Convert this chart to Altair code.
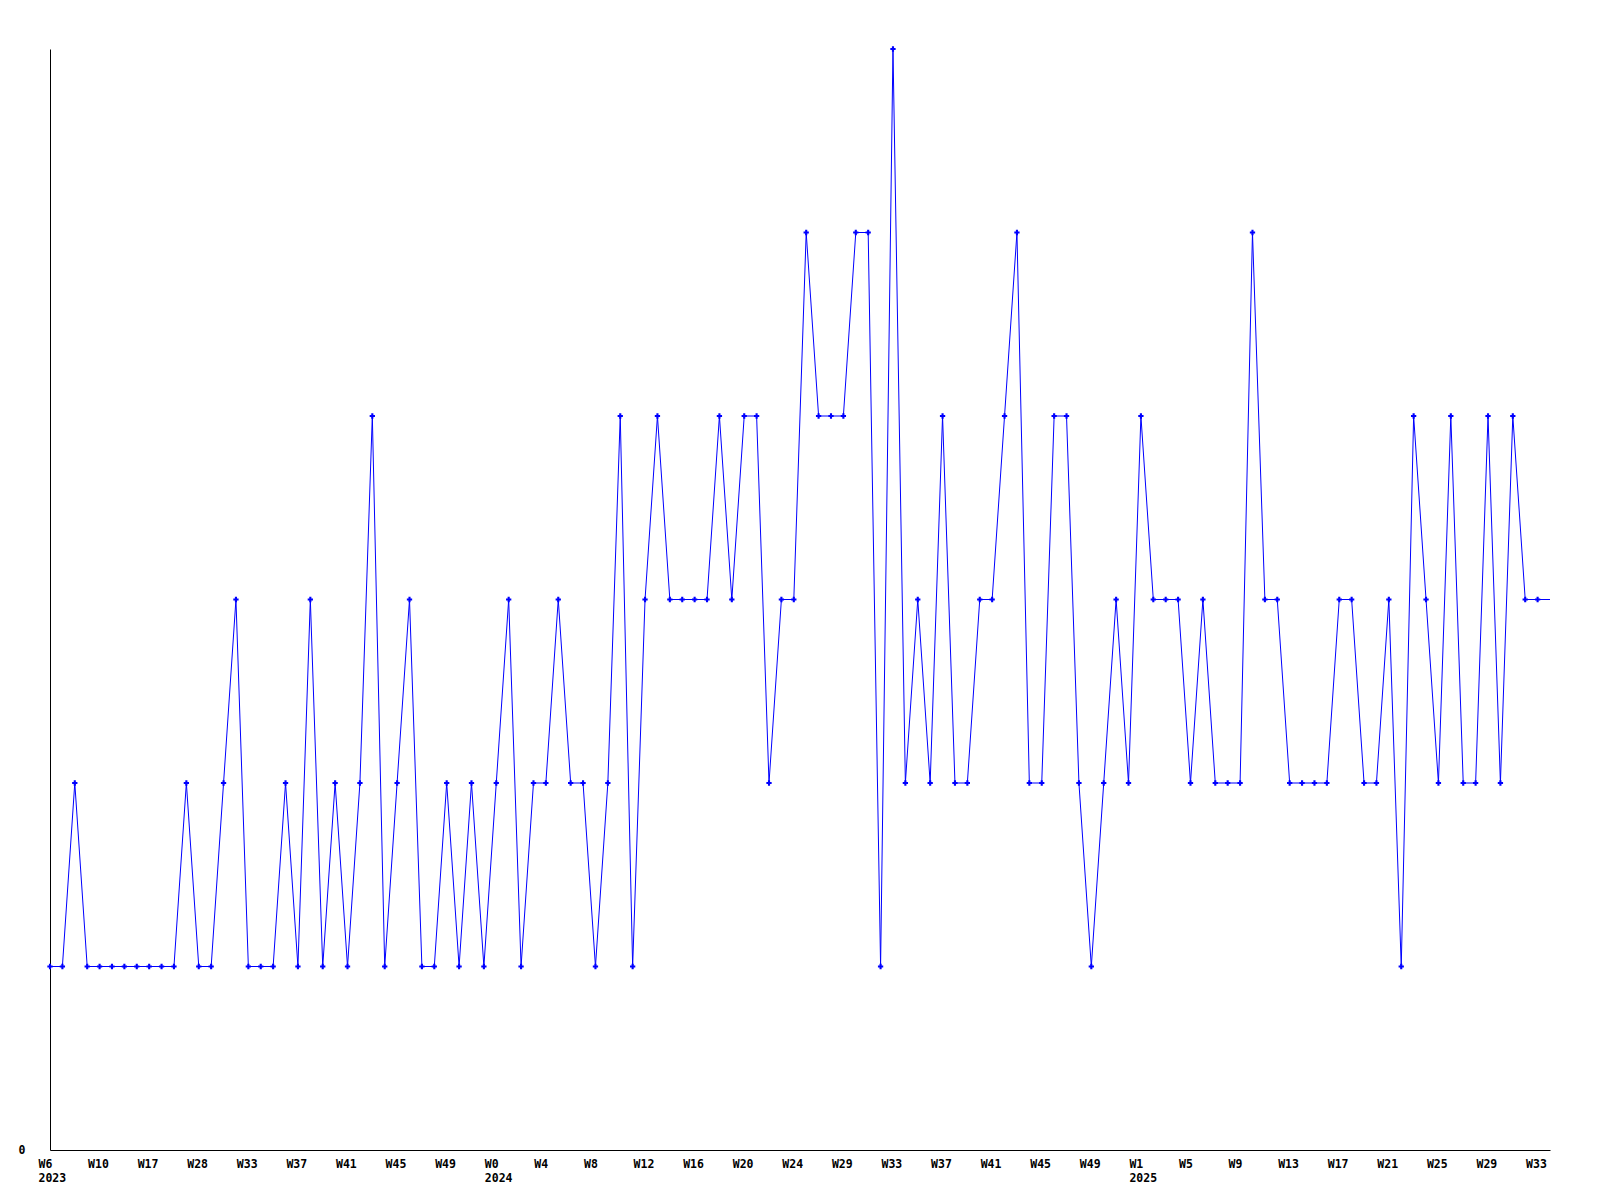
import json
import altair as alt
import pandas as pd

# values per data point (levels)
values = [
    1, 1, 2, 1, 1, 1, 1, 1, 1, 1, 1, 2, 1, 1, 2, 3, 1, 1, 1, 2,
    1, 3, 1, 2, 1, 2, 4, 1, 2, 3, 1, 1, 2, 1, 2, 1, 2, 3, 1, 2,
    2, 3, 2, 2, 1, 2, 4, 1, 3, 4, 3, 3, 3, 3, 4, 3, 4, 4, 2, 3,
    3, 5, 4, 4, 4, 5, 5, 1, 6, 2, 3, 2, 4, 2, 2, 3, 3, 4, 5, 2,
    2, 4, 4, 2, 1, 2, 3, 2, 4, 3, 3, 3, 2, 3, 2, 2, 2, 5, 3, 3,
    2, 2, 2, 2, 3, 3, 2, 2, 3, 1, 4, 3, 2, 4, 2, 2, 4, 2, 4, 3,
    3, 3,
]

weeks = [
    "W6", "W7", "W8", "W9", "W10", "W11", "W13", "W15", "W17", "W20",
    "W23", "W26", "W28", "W29", "W31", "W32", "W33", "W34", "W35", "W36",
    "W37", "W38", "W39", "W40", "W41", "W42", "W43", "W44", "W45", "W46",
    "W47", "W48", "W49", "W50", "W51", "W52",
    "W0", "W1", "W2", "W3", "W4", "W5", "W6", "W7", "W8", "W9",
    "W10", "W11", "W12", "W13", "W14", "W15", "W16", "W17", "W18", "W19",
    "W20", "W21", "W22", "W23", "W24", "W25", "W26", "W28", "W29", "W30",
    "W31", "W32", "W33", "W34", "W35", "W36", "W37", "W38", "W39", "W40",
    "W41", "W42", "W43", "W44", "W45", "W46", "W47", "W48", "W49", "W50",
    "W51", "W52",
    "W1", "W2", "W3", "W4", "W5", "W6", "W7", "W8", "W9", "W10",
    "W11", "W12", "W13", "W14", "W15", "W16", "W17", "W18", "W19", "W20",
    "W21", "W22", "W23", "W24", "W25", "W26", "W27", "W28", "W29", "W30",
    "W31", "W32", "W33", "W34",
]

years = [2023] * 36 + [2024] * 52 + [2025] * 34

label_step = 4

n = len(values)
df = pd.DataFrame({"idx": list(range(n)), "value": values,
                   "week": weeks, "year": years})

# label lookup for the axis (every 4th point, year under first label of a year)
labels = []
prev_year = None
for i in range(n):
    if i % label_step == 0:
        if years[i] != prev_year:
            labels.append([weeks[i], str(years[i])])
        else:
            labels.append(weeks[i])
        prev_year = years[i]
    else:
        labels.append("")
label_expr = json.dumps(labels) + "[datum.value]"

FONT = "DejaVu Sans Mono"
BLUE = "#0000ff"

x = alt.X(
    "idx:Q",
    scale=alt.Scale(domain=[0, n - 1], nice=False, zero=False),
    axis=alt.Axis(
        values=list(range(0, n, label_step)),
        labelExpr=label_expr,
        title=None,
        grid=False,
        ticks=False,
        domainColor="black",
        domainWidth=1,
        labelFont=FONT,
        labelFontWeight="bold",
        labelFontSize=11.5,
        labelColor="black",
        labelAlign="left",
        labelBaseline="top",
        labelOffset=-12,
        labelPadding=8,
        labelLineHeight=14,
        labelOverlap=False,
        labelFlush=False,
    ),
)
y = alt.Y(
    "value:Q",
    scale=alt.Scale(domain=[0, 6], nice=False, zero=True),
    axis=alt.Axis(
        values=[0],
        title=None,
        grid=False,
        ticks=False,
        domainColor="black",
        domainWidth=1,
        labelFont=FONT,
        labelFontWeight="bold",
        labelFontSize=11.5,
        labelColor="black",
        labelPadding=25,
        labelBaseline="middle",
    ),
)

base = alt.Chart(df)
line = base.mark_line(color=BLUE, strokeWidth=1).encode(x=x, y=y)
pts = base.transform_filter(f"datum.idx < {n - 1}").mark_point(
    shape="cross", filled=True, size=28, color=BLUE, opacity=1
).encode(x=x, y=y)

chart = (
    alt.layer(line, pts)
    .properties(
        width=1500,
        height=1101,
        autosize=alt.AutoSizeParams(type="none"),
        padding={"left": 42, "top": 41, "right": 42, "bottom": 50},
        background="white",
    )
    .configure_view(stroke=None)
)

chart.save("out.html", embed_options={"renderer": "svg", "actions": False})
